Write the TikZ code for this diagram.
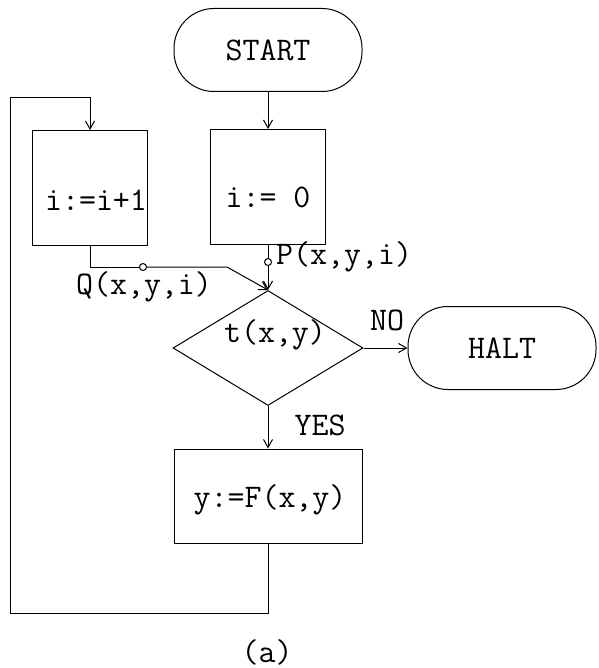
\documentclass[tikz,border=0pt]{standalone}
\usepackage{fontspec}
\usepackage{tikz}
\usetikzlibrary{arrows.meta, shapes.geometric}

\tikzset{
  txt/.style={font=\ttfamily\fontsize{33}{39}\selectfont, inner sep=0pt},
  boite/.style={draw, line width=1pt, minimum width=115pt, minimum height=115pt, inner sep=0pt},
  terminal/.style={draw, line width=1pt, rounded corners=40pt, minimum width=188pt, minimum height=83pt, txt},
  test/.style={draw, diamond, aspect=1.65, line width=1pt, minimum width=190pt, minimum height=115pt, inner sep=0pt},
  fleche/.style={line width=1pt, -{Straight Barb[length=8pt,width=9pt]}},
  trait/.style={line width=1pt},
  rond/.style={draw, circle, fill=white, line width=1pt, minimum size=7pt, inner sep=0pt}
}

\begin{document}
\begin{tikzpicture}[x=1pt, y=-1pt]
    \useasboundingbox (0,0) rectangle (598,668);

    % START
    \node[terminal] (start) at (268,50) {START};

    % i := 0
    \node[boite] (init) at (268,187) {};
    \node[txt] (inittxt) at (268,197) {i:= 0};

    % i := i+1
    \node[boite] (inc) at (90,188) {};
    \node[txt] (inctxt) at (96,200) {i:=i+1};

    % test t(x,y)
    \node[test] (cond) at (268,348) {};
    \node[txt] (condtxt) at (275,335) {t(x,y)};

    % HALT
    \node[terminal] (halt) at (502,348) {HALT};

    % y := F(x,y)
    \node[boite, minimum width=188pt, minimum height=94pt] (upd) at (268,496) {};
    \node[txt] (updtxt) at (270,500) {y:=F(x,y)};

    % points P et Q
    \node[rond] (pdot) at (268,262) {};
    \node[rond] (qdot) at (143,267) {};
    \coordinate (qbend) at (227,267);
    \coordinate (bas) at (10,613);
    \coordinate (haut) at (10,98);

    % liaisons
    \draw[fleche] (start) -- (init);
    \draw[trait] (init) -- (pdot);
    \draw[fleche] (pdot) -- (cond.north);
    \draw[trait] (inc) |- (qdot);
    \draw[fleche] (qdot) -- (qbend) -- (cond.north);
    \draw[fleche] (cond) -- (halt);
    \draw[fleche] (cond) -- (upd);
    \draw[fleche] (upd) |- (bas) -- (haut) -| (inc);

    % etiquettes
    \node[txt, anchor=west] (plab) at (276,257) {P(x,y,i)};
    \node[txt] (qlab) at (144,287) {Q(x,y,i)};
    \node[txt] (nolab) at (387,320) {NO};
    \node[txt] (yeslab) at (320,425) {YES};
    \node[txt] (caption) at (267,652) {(a)};
\end{tikzpicture}
\end{document}
